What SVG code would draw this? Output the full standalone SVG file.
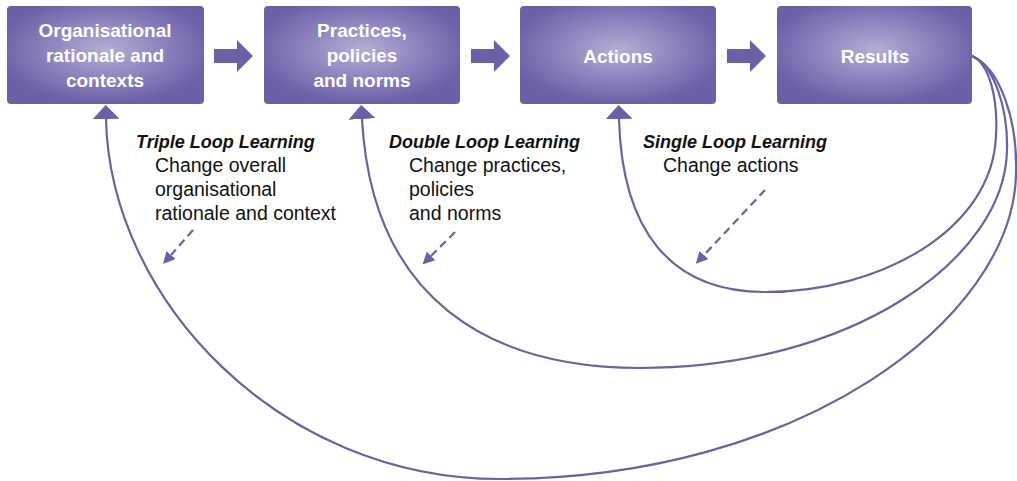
<svg xmlns="http://www.w3.org/2000/svg" width="1017" height="481" viewBox="0 0 1017 481">
<defs>
<radialGradient id="boxg" cx="0.5" cy="0.45" r="0.55">
<stop offset="0" stop-color="#b4aed3"/>
<stop offset="0.55" stop-color="#8d82bd"/>
<stop offset="1" stop-color="#6b60a6"/>
</radialGradient>
<marker id="solidHead" viewBox="0 0 14 27" refX="0" refY="13.5" markerWidth="14" markerHeight="27" markerUnits="userSpaceOnUse" orient="auto">
<path d="M0,0 L14,13.5 L0,27 z" fill="#6b60a6"/>
</marker>
<marker id="dashHead" viewBox="0 0 12 12" refX="0" refY="6" markerWidth="12" markerHeight="12" markerUnits="userSpaceOnUse" orient="auto">
<path d="M0,0 L12,6 L0,12 z" fill="#6b60a6"/>
</marker>
<polygon id="blockArrow" points="0,-7 23,-7 23,-16 39,0 23,16 23,7 0,7" fill="#6b60a6"/>
</defs>
<style>
.box{fill:url(#boxg);}
.bt{font-family:"Liberation Sans",Arial,sans-serif;font-weight:bold;font-size:19px;fill:#ffffff;text-anchor:middle;}
.title{font-family:"Liberation Sans",Arial,sans-serif;font-weight:bold;font-style:italic;font-size:18px;fill:#111111;}
.body{font-family:"Liberation Sans",Arial,sans-serif;font-size:19.5px;fill:#111111;}
.loop{fill:none;stroke:#6b60a6;stroke-width:2.2;marker-end:url(#solidHead);}
.dash{fill:none;stroke:#6b60a6;stroke-width:2.2;stroke-dasharray:8,5;marker-end:url(#dashHead);}
</style>
<rect width="1017" height="481" fill="#ffffff"/>

<g id="node-rationale">
<rect class="box" x="7" y="6" width="197" height="98" rx="4"/>
<text class="bt" x="105" y="37">Organisational</text>
<text class="bt" x="105" y="62">rationale and</text>
<text class="bt" x="105" y="87">contexts</text>
</g>
<g id="node-practices">
<rect class="box" x="264" y="6" width="196" height="98" rx="4"/>
<text class="bt" x="362" y="37">Practices,</text>
<text class="bt" x="362" y="62">policies</text>
<text class="bt" x="362" y="87">and norms</text>
</g>
<g id="node-actions">
<rect class="box" x="520" y="6" width="196" height="98" rx="4"/>
<text class="bt" x="618" y="63">Actions</text>
</g>
<g id="node-results">
<rect class="box" x="777" y="6" width="195" height="98" rx="4"/>
<text class="bt" x="875" y="63">Results</text>
</g>

<g id="connectors">
<use href="#blockArrow" x="214" y="56"/>
<use href="#blockArrow" x="471" y="56"/>
<use href="#blockArrow" x="727" y="56"/>
<path class="loop" d="M972,56 C990,64 998,100 996,135 C993,230 880,292 765,292 C670,292 622,230 619,119"/>
<path class="loop" d="M972,56 C995,66 1008,110 1007,150 C1005,260 850,368 640,368 C490,368 372,300 362,119"/>
<path class="loop" d="M972,56 C1000,68 1018,120 1016,175 C1012,320 800,479 500,479 C280,479 110,300 106,119"/>
<path class="dash" d="M193,230 L171,255"/>
<path class="dash" d="M455,232 L431,256"/>
<path class="dash" d="M765,190 L704,255"/>
</g>

<g id="label-triple">
<text class="title" x="136" y="148">Triple Loop Learning</text>
<text class="body" x="155" y="172">Change overall</text>
<text class="body" x="155" y="196">organisational</text>
<text class="body" x="155" y="220">rationale and context</text>
</g>
<g id="label-double">
<text class="title" x="389" y="148">Double Loop Learning</text>
<text class="body" x="409" y="172">Change practices,</text>
<text class="body" x="409" y="196">policies</text>
<text class="body" x="409" y="220">and norms</text>
</g>
<g id="label-single">
<text class="title" x="643" y="148">Single Loop Learning</text>
<text class="body" x="663" y="172">Change actions</text>
</g>
</svg>
